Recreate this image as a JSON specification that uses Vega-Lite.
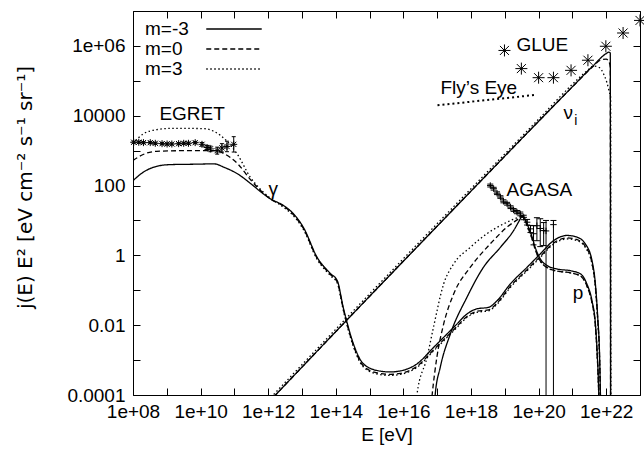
{
"$schema":"https://vega.github.io/schema/vega-lite/v6.json",
"width":507,"height":384,
"autosize":{"type":"none"},
"padding":{"left":133,"top":11,"right":4,"bottom":62},
"background":"white",
"config":{
 "font":"Liberation Sans",
 "view":{"stroke":"black","strokeWidth":1},
 "axis":{"grid":false,"domain":false,"tickColor":"black","tickWidth":1,"tickSize":-7,"labelColor":"black","labelFont":"Liberation Sans","labelFontSize":19,"titleColor":"black","titleFont":"Liberation Sans","titleFontSize":19,"titleFontWeight":"normal","labelFlush":false,"labelOverlap":false,"labelBound":false}
},
"datasets":{
 "curves":[
  {"s":"g","m":"m=-3","E":1e8,"j":138},{"s":"g","m":"m=-3","E":2e8,"j":240},{"s":"g","m":"m=-3","E":5.01e8,"j":355},{"s":"g","m":"m=-3","E":1.26e9,"j":398},{"s":"g","m":"m=-3","E":5.01e9,"j":407},{"s":"g","m":"m=-3","E":2.51e10,"j":417},{"s":"g","m":"m=-3","E":5.01e10,"j":331},{"s":"g","m":"m=-3","E":1.26e11,"j":214},{"s":"g","m":"m=-3","E":3.16e11,"j":110},{"s":"g","m":"m=-3","E":7.24e11,"j":57.5},{"s":"g","m":"m=-3","E":1.15e12,"j":41.7},{"s":"g","m":"m=-3","E":2.82e12,"j":26.9},{"s":"g","m":"m=-3","E":5.5e12,"j":15.8},{"s":"g","m":"m=-3","E":1.1e13,"j":6.31},{"s":"g","m":"m=-3","E":2.82e13,"j":0.871},{"s":"g","m":"m=-3","E":6.92e13,"j":0.302},{"s":"g","m":"m=-3","E":1.1e14,"j":0.191},{"s":"g","m":"m=-3","E":1.66e14,"j":0.0324},{"s":"g","m":"m=-3","E":2.19e14,"j":0.0112},{"s":"g","m":"m=-3","E":3.31e14,"j":0.00295},{"s":"g","m":"m=-3","E":6.46e14,"j":0.000794},{"s":"g","m":"m=-3","E":1.7e15,"j":0.000501},{"s":"g","m":"m=-3","E":4.07e15,"j":0.000457},{"s":"g","m":"m=-3","E":8.13e15,"j":0.00049},{"s":"g","m":"m=-3","E":2.51e16,"j":0.000776},{"s":"g","m":"m=-3","E":7.76e16,"j":0.00229},{"s":"g","m":"m=-3","E":3.47e17,"j":0.00977},{"s":"g","m":"m=-3","E":7.59e17,"j":0.0209},{"s":"g","m":"m=-3","E":1.51e18,"j":0.0295},{"s":"g","m":"m=-3","E":3.31e18,"j":0.0324},{"s":"g","m":"m=-3","E":5.89e18,"j":0.0501},{"s":"g","m":"m=-3","E":1.45e19,"j":0.151},{"s":"g","m":"m=-3","E":4.57e19,"j":0.457},{"s":"g","m":"m=-3","E":1.12e20,"j":1.1},{"s":"g","m":"m=-3","E":2.75e20,"j":2.63},{"s":"g","m":"m=-3","E":6.92e20,"j":3.72},{"s":"g","m":"m=-3","E":1.38e21,"j":3.31},{"s":"g","m":"m=-3","E":2.4e21,"j":2.14},{"s":"g","m":"m=-3","E":3.8e21,"j":0.708},{"s":"g","m":"m=-3","E":4.79e21,"j":0.151},{"s":"g","m":"m=-3","E":5.62e21,"j":0.0166},{"s":"g","m":"m=-3","E":6.31e21,"j":0.00186},{"s":"g","m":"m=-3","E":6.76e21,"j":0.0001},{"s":"g","m":"m=-3","E":7.08e21,"j":0.00001},
  {"s":"g","m":"m=0","E":1e8,"j":525},{"s":"g","m":"m=0","E":2e8,"j":776},{"s":"g","m":"m=0","E":5.01e8,"j":955},{"s":"g","m":"m=0","E":5.01e9,"j":1000},{"s":"g","m":"m=0","E":2.51e10,"j":1000},{"s":"g","m":"m=0","E":5.01e10,"j":813},{"s":"g","m":"m=0","E":1.26e11,"j":417},{"s":"g","m":"m=0","E":3.16e11,"j":138},{"s":"g","m":"m=0","E":7.24e11,"j":60.3},{"s":"g","m":"m=0","E":1.15e12,"j":41.7},{"s":"g","m":"m=0","E":2.82e12,"j":25.7},{"s":"g","m":"m=0","E":5.5e12,"j":14.8},{"s":"g","m":"m=0","E":1.1e13,"j":5.89},{"s":"g","m":"m=0","E":2.82e13,"j":0.813},{"s":"g","m":"m=0","E":6.92e13,"j":0.282},{"s":"g","m":"m=0","E":1.1e14,"j":0.174},{"s":"g","m":"m=0","E":1.66e14,"j":0.0295},{"s":"g","m":"m=0","E":2.19e14,"j":0.01},{"s":"g","m":"m=0","E":3.31e14,"j":0.00263},{"s":"g","m":"m=0","E":6.46e14,"j":0.000692},{"s":"g","m":"m=0","E":1.7e15,"j":0.000427},{"s":"g","m":"m=0","E":4.07e15,"j":0.000389},{"s":"g","m":"m=0","E":8.13e15,"j":0.000417},{"s":"g","m":"m=0","E":2.51e16,"j":0.000661},{"s":"g","m":"m=0","E":7.76e16,"j":0.00195},{"s":"g","m":"m=0","E":3.47e17,"j":0.00832},{"s":"g","m":"m=0","E":7.59e17,"j":0.0178},{"s":"g","m":"m=0","E":1.51e18,"j":0.0251},{"s":"g","m":"m=0","E":3.31e18,"j":0.0275},{"s":"g","m":"m=0","E":5.89e18,"j":0.0427},{"s":"g","m":"m=0","E":1.45e19,"j":0.129},{"s":"g","m":"m=0","E":4.57e19,"j":0.389},{"s":"g","m":"m=0","E":1.12e20,"j":0.933},{"s":"g","m":"m=0","E":2.75e20,"j":2.24},{"s":"g","m":"m=0","E":6.92e20,"j":3.16},{"s":"g","m":"m=0","E":1.38e21,"j":2.82},{"s":"g","m":"m=0","E":2.4e21,"j":1.82},{"s":"g","m":"m=0","E":3.8e21,"j":0.603},{"s":"g","m":"m=0","E":4.79e21,"j":0.129},{"s":"g","m":"m=0","E":5.62e21,"j":0.0141},{"s":"g","m":"m=0","E":6.31e21,"j":0.00158},{"s":"g","m":"m=0","E":6.76e21,"j":0.0000851},{"s":"g","m":"m=0","E":7.08e21,"j":0.00001},
  {"s":"g","m":"m=3","E":1e8,"j":1585},{"s":"g","m":"m=3","E":2e8,"j":3020},{"s":"g","m":"m=3","E":5.01e8,"j":3981},{"s":"g","m":"m=3","E":1.58e9,"j":4365},{"s":"g","m":"m=3","E":1.26e10,"j":4266},{"s":"g","m":"m=3","E":2.51e10,"j":3548},{"s":"g","m":"m=3","E":5.75e10,"j":1950},{"s":"g","m":"m=3","E":1.2e11,"j":813},{"s":"g","m":"m=3","E":2.95e11,"j":174},{"s":"g","m":"m=3","E":7.24e11,"j":64.6},{"s":"g","m":"m=3","E":1.15e12,"j":43.7},{"s":"g","m":"m=3","E":2.82e12,"j":24},{"s":"g","m":"m=3","E":5.5e12,"j":13.8},{"s":"g","m":"m=3","E":1.1e13,"j":5.5},{"s":"g","m":"m=3","E":2.82e13,"j":0.759},{"s":"g","m":"m=3","E":6.92e13,"j":0.263},{"s":"g","m":"m=3","E":1.1e14,"j":0.162},{"s":"g","m":"m=3","E":1.66e14,"j":0.0275},{"s":"g","m":"m=3","E":2.19e14,"j":0.00933},{"s":"g","m":"m=3","E":3.31e14,"j":0.00245},{"s":"g","m":"m=3","E":6.46e14,"j":0.000646},{"s":"g","m":"m=3","E":1.7e15,"j":0.000398},{"s":"g","m":"m=3","E":4.07e15,"j":0.000363},{"s":"g","m":"m=3","E":8.13e15,"j":0.000389},{"s":"g","m":"m=3","E":2.51e16,"j":0.000617},{"s":"g","m":"m=3","E":7.76e16,"j":0.00182},{"s":"g","m":"m=3","E":3.47e17,"j":0.00776},{"s":"g","m":"m=3","E":7.59e17,"j":0.0166},{"s":"g","m":"m=3","E":1.51e18,"j":0.0234},{"s":"g","m":"m=3","E":3.31e18,"j":0.0257},{"s":"g","m":"m=3","E":5.89e18,"j":0.0398},{"s":"g","m":"m=3","E":1.45e19,"j":0.12},{"s":"g","m":"m=3","E":4.57e19,"j":0.363},{"s":"g","m":"m=3","E":1.12e20,"j":0.871},{"s":"g","m":"m=3","E":2.75e20,"j":2.09},{"s":"g","m":"m=3","E":6.92e20,"j":2.95},{"s":"g","m":"m=3","E":1.38e21,"j":2.63},{"s":"g","m":"m=3","E":2.4e21,"j":1.7},{"s":"g","m":"m=3","E":3.8e21,"j":0.562},{"s":"g","m":"m=3","E":4.79e21,"j":0.12},{"s":"g","m":"m=3","E":5.62e21,"j":0.0132},{"s":"g","m":"m=3","E":6.31e21,"j":0.00148},{"s":"g","m":"m=3","E":6.76e21,"j":0.0000794},{"s":"g","m":"m=3","E":7.08e21,"j":0.00001},
  {"s":"n","m":"m=-3","E":1e12,"j":0.0000603},{"s":"n","m":"m=-3","E":1.91e14,"j":0.0126},{"s":"n","m":"m=-3","E":4.79e17,"j":33.1},{"s":"n","m":"m=-3","E":1e20,"j":6918},{"s":"n","m":"m=-3","E":1e21,"j":67608},{"s":"n","m":"m=-3","E":3.98e21,"j":263027},{"s":"n","m":"m=-3","E":1e22,"j":602560},{"s":"n","m":"m=-3","E":1.2e22,"j":660693},{"s":"n","m":"m=-3","E":1.32e22,"j":630957},{"s":"n","m":"m=-3","E":1.35e22,"j":0.000001},
  {"s":"n","m":"m=0","E":1e12,"j":0.0000603},{"s":"n","m":"m=0","E":1.91e14,"j":0.0126},{"s":"n","m":"m=0","E":4.79e17,"j":33.1},{"s":"n","m":"m=0","E":1e20,"j":6918},{"s":"n","m":"m=0","E":1e21,"j":67608},{"s":"n","m":"m=0","E":3.98e21,"j":251189},{"s":"n","m":"m=0","E":7.08e21,"j":398107},{"s":"n","m":"m=0","E":1e22,"j":416869},{"s":"n","m":"m=0","E":1.2e22,"j":354813},{"s":"n","m":"m=0","E":1.32e22,"j":251189},{"s":"n","m":"m=0","E":1.35e22,"j":0.000001},
  {"s":"n","m":"m=3","E":1e12,"j":0.0000708},{"s":"n","m":"m=3","E":1.91e14,"j":0.0148},{"s":"n","m":"m=3","E":4.79e17,"j":38.9},{"s":"n","m":"m=3","E":1e20,"j":7943},{"s":"n","m":"m=3","E":1e21,"j":79433},{"s":"n","m":"m=3","E":2.51e21,"j":181970},{"s":"n","m":"m=3","E":4.27e21,"j":263027},{"s":"n","m":"m=3","E":6.31e21,"j":239883},{"s":"n","m":"m=3","E":8.32e21,"j":158489},{"s":"n","m":"m=3","E":1.05e22,"j":89125},{"s":"n","m":"m=3","E":1.26e22,"j":44668},{"s":"n","m":"m=3","E":1.35e22,"j":35481},{"s":"n","m":"m=3","E":1.38e22,"j":0.000001},
  {"s":"p","m":"m=-3","E":7.94e16,"j":0.0000316},{"s":"p","m":"m=-3","E":8.71e16,"j":0.0001},{"s":"p","m":"m=-3","E":1.23e17,"j":0.000617},{"s":"p","m":"m=-3","E":2.45e17,"j":0.00562},{"s":"p","m":"m=-3","E":7.59e17,"j":0.0631},{"s":"p","m":"m=-3","E":2.34e18,"j":0.457},{"s":"p","m":"m=-3","E":7.41e18,"j":1.7},{"s":"p","m":"m=-3","E":1.82e19,"j":5.13},{"s":"p","m":"m=-3","E":2.88e19,"j":11.2},{"s":"p","m":"m=-3","E":3.24e19,"j":13.8},{"s":"p","m":"m=-3","E":3.8e19,"j":12},{"s":"p","m":"m=-3","E":4.57e19,"j":7.94},{"s":"p","m":"m=-3","E":6.46e19,"j":3.31},{"s":"p","m":"m=-3","E":7.94e19,"j":1.7},{"s":"p","m":"m=-3","E":1.12e20,"j":0.794},{"s":"p","m":"m=-3","E":1.78e20,"j":0.513},{"s":"p","m":"m=-3","E":3.47e20,"j":0.407},{"s":"p","m":"m=-3","E":8.71e20,"j":0.363},{"s":"p","m":"m=-3","E":1.74e21,"j":0.295},{"s":"p","m":"m=-3","E":2.69e21,"j":0.151},{"s":"p","m":"m=-3","E":3.8e21,"j":0.0501},{"s":"p","m":"m=-3","E":4.79e21,"j":0.011},{"s":"p","m":"m=-3","E":5.37e21,"j":0.00186},{"s":"p","m":"m=-3","E":6.03e21,"j":0.0001},{"s":"p","m":"m=-3","E":6.31e21,"j":0.00001},
  {"s":"p","m":"m=0","E":6.31e16,"j":0.0000316},{"s":"p","m":"m=0","E":7.08e16,"j":0.0001},{"s":"p","m":"m=0","E":9.77e16,"j":0.0012},{"s":"p","m":"m=0","E":1.55e17,"j":0.0107},{"s":"p","m":"m=0","E":3.09e17,"j":0.0794},{"s":"p","m":"m=0","E":9.55e17,"j":0.457},{"s":"p","m":"m=0","E":3.72e18,"j":2.14},{"s":"p","m":"m=0","E":1.17e19,"j":6.46},{"s":"p","m":"m=0","E":2.57e19,"j":11.2},{"s":"p","m":"m=0","E":3.24e19,"j":13.2},{"s":"p","m":"m=0","E":3.8e19,"j":11},{"s":"p","m":"m=0","E":4.57e19,"j":7.08},{"s":"p","m":"m=0","E":6.46e19,"j":2.88},{"s":"p","m":"m=0","E":7.94e19,"j":1.48},{"s":"p","m":"m=0","E":1.12e20,"j":0.692},{"s":"p","m":"m=0","E":1.78e20,"j":0.447},{"s":"p","m":"m=0","E":3.47e20,"j":0.355},{"s":"p","m":"m=0","E":8.71e20,"j":0.316},{"s":"p","m":"m=0","E":1.74e21,"j":0.257},{"s":"p","m":"m=0","E":2.69e21,"j":0.132},{"s":"p","m":"m=0","E":3.8e21,"j":0.0437},{"s":"p","m":"m=0","E":4.79e21,"j":0.00955},{"s":"p","m":"m=0","E":5.37e21,"j":0.00162},{"s":"p","m":"m=0","E":6.03e21,"j":0.0000871},{"s":"p","m":"m=0","E":6.31e21,"j":0.00001},
  {"s":"p","m":"m=3","E":2.24e16,"j":0.0000316},{"s":"p","m":"m=3","E":2.51e16,"j":0.0001},{"s":"p","m":"m=3","E":5.01e16,"j":0.0012},{"s":"p","m":"m=3","E":7.76e16,"j":0.0087},{"s":"p","m":"m=3","E":1.55e17,"j":0.151},{"s":"p","m":"m=3","E":3.09e17,"j":0.575},{"s":"p","m":"m=3","E":9.55e17,"j":1.7},{"s":"p","m":"m=3","E":2.95e18,"j":4.17},{"s":"p","m":"m=3","E":9.12e18,"j":7.94},{"s":"p","m":"m=3","E":2.57e19,"j":12.3},{"s":"p","m":"m=3","E":3.24e19,"j":13.2},{"s":"p","m":"m=3","E":3.8e19,"j":11},{"s":"p","m":"m=3","E":4.57e19,"j":7.08},{"s":"p","m":"m=3","E":6.46e19,"j":2.88},{"s":"p","m":"m=3","E":7.94e19,"j":1.48},{"s":"p","m":"m=3","E":1.12e20,"j":0.692},{"s":"p","m":"m=3","E":1.78e20,"j":0.447},{"s":"p","m":"m=3","E":3.47e20,"j":0.355},{"s":"p","m":"m=3","E":8.71e20,"j":0.316},{"s":"p","m":"m=3","E":1.74e21,"j":0.257},{"s":"p","m":"m=3","E":2.69e21,"j":0.132},{"s":"p","m":"m=3","E":3.8e21,"j":0.0437},{"s":"p","m":"m=3","E":4.79e21,"j":0.00955},{"s":"p","m":"m=3","E":5.37e21,"j":0.00162},{"s":"p","m":"m=3","E":6.03e21,"j":0.0000871},{"s":"p","m":"m=3","E":6.31e21,"j":0.00001}
 ],
 "egret":[
  {"E":1.05e8,"j":1738,"lo":1622,"hi":1862},{"E":1.48e8,"j":1738,"lo":1622,"hi":1862},{"E":2.04e8,"j":1698,"lo":1585,"hi":1820},{"E":3.24e8,"j":1698,"lo":1585,"hi":1820},{"E":4.57e8,"j":1622,"lo":1514,"hi":1738},{"E":7.24e8,"j":1585,"lo":1479,"hi":1698},{"E":1.02e9,"j":1549,"lo":1445,"hi":1660},{"E":1.41e9,"j":1549,"lo":1445,"hi":1660},{"E":2.24e9,"j":1585,"lo":1479,"hi":1698},{"E":3.16e9,"j":1622,"lo":1514,"hi":1738},{"E":4.37e9,"j":1622,"lo":1514,"hi":1738},{"E":6.92e9,"j":1698,"lo":1585,"hi":1820},{"E":1.1e10,"j":1514,"lo":1349,"hi":1698},{"E":1.55e10,"j":1230,"lo":1072,"hi":1413},{"E":1.95e10,"j":1122,"lo":933,"hi":1349},{"E":3.09e10,"j":1000,"lo":794,"hi":1259},{"E":4.27e10,"j":1202,"lo":912,"hi":1585},{"E":6.03e10,"j":1318,"lo":933,"hi":1862},{"E":9.55e10,"j":1514,"lo":912,"hi":2512}
 ],
 "agasa":[
  {"E":3.72e18,"j":100,"lo":91,"hi":110},{"E":4.68e18,"j":81.3,"lo":74,"hi":89},{"E":5.89e18,"j":60.3,"lo":55,"hi":66},{"E":7.41e18,"j":46.8,"lo":43,"hi":51},{"E":9.12e18,"j":35.5,"lo":32,"hi":39},{"E":1.17e19,"j":30.2,"lo":27.5,"hi":33},{"E":1.48e19,"j":24,"lo":21.9,"hi":26.3},{"E":1.82e19,"j":20,"lo":18.2,"hi":21.9},{"E":2.29e19,"j":17.4,"lo":15.6,"hi":19.3},{"E":2.88e19,"j":15.5,"lo":13.6,"hi":17.4},{"E":3.63e19,"j":12.3,"lo":10.5,"hi":14.1},{"E":4.57e19,"j":8.91,"lo":7.4,"hi":10.7},{"E":5.75e19,"j":5.75,"lo":4.5,"hi":7.2},{"E":7.08e19,"j":4.17,"lo":2,"hi":7.08},{"E":8.91e19,"j":7.08,"lo":2.63,"hi":12},{"E":1.12e20,"j":5.89,"lo":1.78,"hi":11.2},{"E":1.41e20,"j":5.13,"lo":1.91,"hi":8.71},{"E":1.66e20,"j":5.01,"lo":0.000001,"hi":10},{"E":2.75e20,"j":7.59,"lo":0.000001,"hi":10}
 ],
 "glue":[
  {"E":9.77e18,"j":741310},{"E":3.09e19,"j":223872},{"E":1e20,"j":123027},{"E":2.75e20,"j":123027},{"E":9.12e20,"j":199526},{"E":2.88e21,"j":389045},{"E":9.77e21,"j":977237},{"E":3.16e22,"j":2344229},{"E":1e23,"j":5370318}
 ],
 "flys":[{"E":1.02e17,"j":19953},{"E":8.91e19,"j":39811}],
 "labels":[
  {"E":5.62e9,"j":10965,"t":"EGRET"},{"E":1.29e20,"j":1050000,"t":"GLUE"},{"E":1.7e18,"j":60256,"t":"Fly’s Eye"},{"E":1.05e20,"j":72.4,"t":"AGASA"},{"E":1.4e12,"j":80,"t":"γ"},{"E":1.48e21,"j":0.0851,"t":"p"},{"E":7.59e20,"j":12303,"t":"ν"}
 ],
 "sub":[{"E":1.26e21,"j":6918,"t":"i"}]
},
"resolve":{"axis":{"x":"independent","y":"independent"}},
"layer":[
 {"data":{"name":"curves"},
  "mark":{"type":"line","color":"black","strokeWidth":1.3,"clip":true,"interpolate":"monotone"},
  "encoding":{
   "x":{"field":"E","type":"quantitative","scale":{"type":"log","domain":[1e8,1e23],"nice":false},
        "axis":{"orient":"bottom","values":[1e8,1e9,1e10,1e11,1e12,1e13,1e14,1e15,1e16,1e17,1e18,1e19,1e20,1e21,1e22,1e23],
                "labelExpr":"(round(log(datum.value)/LN10) % 2 == 0) ? ('1e+' + (round(log(datum.value)/LN10) < 10 ? '0' : '') + round(log(datum.value)/LN10)) : ''",
                "labelPadding":14,"title":"E [eV]","titlePadding":4}},
   "y":{"field":"j","type":"quantitative","scale":{"type":"log","domain":[0.0001,10000000],"nice":false},
        "axis":{"orient":"left","values":[0.0001,0.001,0.01,0.1,1,10,100,1000,10000,100000,1000000,10000000],
                "labelExpr":"(round(log(datum.value)/LN10) % 2 != 0) ? '' : (round(log(datum.value)/LN10) == 6 ? '1e+06' : format(datum.value, '~g'))",
                "labelPadding":15,"title":"j(E) E² [eV cm⁻² s⁻¹ sr⁻¹]","titleFont":"DejaVu Sans","titleFontSize":20,"titleX":-108,"titleY":176,"titleAngle":-90,"titleAlign":"center","titleBaseline":"middle"}},
   "strokeDash":{"field":"m","type":"nominal","scale":{"domain":["m=-3","m=0","m=3"],"range":[[1,0],[5,3],[1.5,2.5]]},
        "legend":{"orient":"none","legendX":91,"legendY":8,"title":null,"symbolType":"M-3,0L3,0","symbolSize":342,"symbolStrokeWidth":1.3,"symbolStrokeColor":"black","symbolFillColor":"transparent","labelFontSize":19,"labelFont":"Liberation Sans","labelColor":"black","labelOffset":-99,"labelAlign":"left","rowPadding":0,"padding":0}},
   "detail":{"field":"s"}
  }},
 {"data":{"name":"flys"},
  "mark":{"type":"line","color":"black","strokeWidth":2,"strokeDash":[2,3],"clip":true},
  "encoding":{
   "x":{"field":"E","type":"quantitative","scale":{"type":"log","domain":[1e8,1e23],"nice":false},
        "axis":{"orient":"top","values":[1e8,1e9,1e10,1e11,1e12,1e13,1e14,1e15,1e16,1e17,1e18,1e19,1e20,1e21,1e22,1e23],"labels":false,"title":null}},
   "y":{"field":"j","type":"quantitative","scale":{"type":"log","domain":[0.0001,10000000],"nice":false},
        "axis":{"orient":"right","values":[0.0001,0.001,0.01,0.1,1,10,100,1000,10000,100000,1000000,10000000],"labels":false,"title":null}}
  }},
 {"data":{"name":"egret"},
  "mark":{"type":"rule","color":"black","strokeWidth":1},
  "encoding":{
   "x":{"field":"E","type":"quantitative","scale":{"type":"log","domain":[1e8,1e23],"nice":false},"axis":null},
   "y":{"field":"lo","type":"quantitative","scale":{"type":"log","domain":[0.0001,10000000],"nice":false},"axis":null},
   "y2":{"field":"hi"}
  }},
 {"data":{"name":"egret"},
  "mark":{"type":"point","shape":"M-1,0L1,0","size":16,"filled":false,"color":"black","strokeWidth":1,"opacity":1},
  "encoding":{
   "x":{"field":"E","type":"quantitative","scale":{"type":"log","domain":[1e8,1e23],"nice":false},"axis":null},
   "y":{"field":"hi","type":"quantitative","scale":{"type":"log","domain":[0.0001,10000000],"nice":false},"axis":null}
  }},
 {"data":{"name":"egret"},
  "mark":{"type":"point","shape":"M-1,0L1,0","size":16,"filled":false,"color":"black","strokeWidth":1,"opacity":1},
  "encoding":{
   "x":{"field":"E","type":"quantitative","scale":{"type":"log","domain":[1e8,1e23],"nice":false},"axis":null},
   "y":{"field":"lo","type":"quantitative","scale":{"type":"log","domain":[0.0001,10000000],"nice":false},"axis":null}
  }},
 {"data":{"name":"egret"},
  "mark":{"type":"point","shape":"M-1,0L1,0M0,-1L0,1M-0.75,-0.75L0.75,0.75M-0.75,0.75L0.75,-0.75","size":49,"filled":false,"color":"black","strokeWidth":1,"opacity":1},
  "encoding":{
   "x":{"field":"E","type":"quantitative","scale":{"type":"log","domain":[1e8,1e23],"nice":false},"axis":null},
   "y":{"field":"j","type":"quantitative","scale":{"type":"log","domain":[0.0001,10000000],"nice":false},"axis":null}
  }},
 {"data":{"name":"agasa"},
  "mark":{"type":"rule","color":"black","strokeWidth":1,"clip":true},
  "encoding":{
   "x":{"field":"E","type":"quantitative","scale":{"type":"log","domain":[1e8,1e23],"nice":false},"axis":null},
   "y":{"field":"lo","type":"quantitative","scale":{"type":"log","domain":[0.0001,10000000],"nice":false},"axis":null},
   "y2":{"field":"hi"}
  }},
 {"data":{"name":"agasa"},
  "mark":{"type":"point","shape":"M-1,0L1,0","size":36,"filled":false,"color":"black","strokeWidth":1,"opacity":1,"clip":true},
  "encoding":{
   "x":{"field":"E","type":"quantitative","scale":{"type":"log","domain":[1e8,1e23],"nice":false},"axis":null},
   "y":{"field":"hi","type":"quantitative","scale":{"type":"log","domain":[0.0001,10000000],"nice":false},"axis":null}
  }},
 {"data":{"name":"agasa"},
  "mark":{"type":"point","shape":"M-1,0L1,0","size":36,"filled":false,"color":"black","strokeWidth":1,"opacity":1,"clip":true},
  "encoding":{
   "x":{"field":"E","type":"quantitative","scale":{"type":"log","domain":[1e8,1e23],"nice":false},"axis":null},
   "y":{"field":"lo","type":"quantitative","scale":{"type":"log","domain":[0.0001,10000000],"nice":false},"axis":null}
  }},
 {"data":{"name":"agasa"},
  "mark":{"type":"point","shape":"M-1,0L1,0M0,-1L0,1","size":42,"filled":false,"color":"black","strokeWidth":1,"opacity":1},
  "encoding":{
   "x":{"field":"E","type":"quantitative","scale":{"type":"log","domain":[1e8,1e23],"nice":false},"axis":null},
   "y":{"field":"j","type":"quantitative","scale":{"type":"log","domain":[0.0001,10000000],"nice":false},"axis":null}
  }},
 {"data":{"name":"glue"},
  "mark":{"type":"point","shape":"M-1,0L1,0M0,-1L0,1M-0.75,-0.75L0.75,0.75M-0.75,0.75L0.75,-0.75","size":144,"filled":false,"color":"black","strokeWidth":1,"opacity":1},
  "encoding":{
   "x":{"field":"E","type":"quantitative","scale":{"type":"log","domain":[1e8,1e23],"nice":false},"axis":null},
   "y":{"field":"j","type":"quantitative","scale":{"type":"log","domain":[0.0001,10000000],"nice":false},"axis":null}
  }},
 {"data":{"name":"labels"},
  "mark":{"type":"text","font":"Liberation Sans","fontSize":19,"color":"black","align":"center","baseline":"middle"},
  "encoding":{
   "x":{"field":"E","type":"quantitative","scale":{"type":"log","domain":[1e8,1e23],"nice":false},"axis":null},
   "y":{"field":"j","type":"quantitative","scale":{"type":"log","domain":[0.0001,10000000],"nice":false},"axis":null},
   "text":{"field":"t"}
  }},
 {"data":{"name":"sub"},
  "mark":{"type":"text","font":"Liberation Sans","fontSize":14,"color":"black","align":"center","baseline":"middle"},
  "encoding":{
   "x":{"field":"E","type":"quantitative","scale":{"type":"log","domain":[1e8,1e23],"nice":false},"axis":null},
   "y":{"field":"j","type":"quantitative","scale":{"type":"log","domain":[0.0001,10000000],"nice":false},"axis":null},
   "text":{"field":"t"}
  }}
]
}
